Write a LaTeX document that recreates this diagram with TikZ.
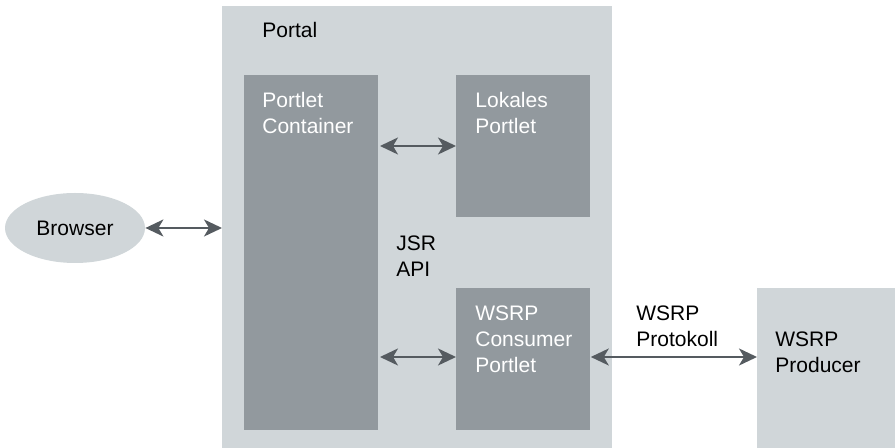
\documentclass[tikz,border=0pt]{standalone}
\usepackage{fontspec}
\setmainfont{Liberation Sans}
\usetikzlibrary{arrows.meta,shapes.geometric}
\definecolor{hellgrau}{HTML}{D0D6D9}
\definecolor{dunkelgrau}{HTML}{92999E}
\definecolor{pfeilgrau}{HTML}{555B60}
\tikzset{
  flaeche/.style={fill=hellgrau, draw=none, inner sep=0pt, anchor=north west},
  kasten/.style={fill=dunkelgrau, draw=none, inner sep=0pt, anchor=north west},
  txt/.style={anchor=north west, inner sep=0pt, align=left, font=\fontsize{10.5}{13}\selectfont},
  weiss/.style={txt, text=white},
  doppelpfeil/.style={draw=pfeilgrau, line width=1pt, {Stealth[length=9pt,width=8.5pt,inset=2.5pt]}-{Stealth[length=9pt,width=8.5pt,inset=2.5pt]}}
}
\begin{document}
\begin{tikzpicture}[x=0.5pt,y=-0.5pt]
                \useasboundingbox (0,0) rectangle (895,448);
                % Portal
                \node [flaeche, minimum width=195pt, minimum height=221pt] (portal) at (222,6) {};
                \node [txt] (portaltxt) at (262,22) {Portal};
                \node [kasten, minimum width=67pt, minimum height=177.5pt] (container) at (244,75) {};
                \node [weiss] (containertxt) at (262,92) {Portlet\\Container};
                \node [kasten, minimum width=67pt, minimum height=71pt] (lokal) at (456,75) {};
                \node [weiss] (lokaltxt) at (475,92) {Lokales\\Portlet};
                \node [kasten, minimum width=67pt, minimum height=71pt] (consumer) at (456,288) {};
                \node [weiss] (consumertxt) at (475,305) {WSRP\\Consumer\\Portlet};
                \node [txt] (jsr) at (396,235) {JSR\\API};
                % ausserhalb
                \node [ellipse, fill=hellgrau, minimum width=70pt, minimum height=35pt, inner sep=0pt, font=\fontsize{10.5}{13}\selectfont] (browser) at (75,228) {Browser};
                \node [flaeche, minimum width=69pt, minimum height=80pt] (producer) at (757,288) {};
                \node [txt] (producertxt) at (775,331) {WSRP\\Producer};
                \node [txt] (protokoll) at (636,305) {WSRP\\Protokoll};
                % Pfeile
                \coordinate (c1) at (380,146);
                \coordinate (c2) at (380,357);
                \coordinate (b1) at (222,228);
                \draw [doppelpfeil] (browser.east) -- (b1);
                \draw [doppelpfeil] (c1) -- (lokal.west |- c1);
                \draw [doppelpfeil] (c2) -- (consumer.west |- c2);
                \draw [doppelpfeil] (consumer.east |- c2) -- (producer.west |- c2);
            \end{tikzpicture}
\end{document}
